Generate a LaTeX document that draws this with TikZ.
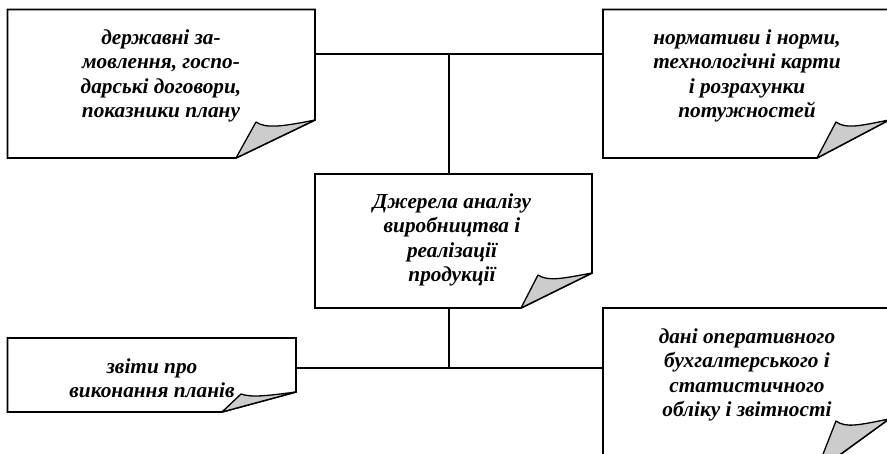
\documentclass[tikz,border=0pt]{standalone}
\usepackage{fontspec}
\setmainfont{Liberation Serif}
\tikzset{x=1pt,y=-1pt,
 conn/.style={line width=1.5pt,draw=black},
 pg/.style={line width=1.7pt,draw=black,fill=white,line join=miter},
 flap/.style={line width=1.3pt,draw=black,fill=black!20,line join=round},
 boxn/.style={inner sep=0pt,outer sep=0pt,rectangle},
 lbl/.style={align=center,font=\fontsize{21.3}{24.4}\selectfont\bfseries\itshape,inner sep=0pt}}
\newcommand{\notepage}[8]{%
 % name left top right bottom foldx tipx tipy
 \draw[pg] (#2,#3) -- (#4,#3) -- (#4,#8-2) -- (#6,#5) -- (#2,#5) -- cycle;
 \draw[flap] (#6,#5) -- (#7,#8) .. controls (#7+10,{#8+min(36,#5-#8)*0.2}) and (#4-30,{#8+min(36,#5-#8)*0.11}) .. (#4,#8-2) -- cycle;
 \node[boxn,minimum width={#4-#2},minimum height={#5-#3}] (#1) at ({(#2+#4)/2},{(#3+#5)/2}) {};
}
\begin{document}
\begin{tikzpicture}
\useasboundingbox (0,0) rectangle (887,454);
\notepage{nw}{7.5}{9.5}{315}{158}{236}{256}{122}
\notepage{ne}{603}{9.5}{889}{158}{817}{836}{122}
\notepage{c}{315}{174}{592}{308}{521}{538}{275}
\notepage{sw}{7.5}{338}{296}{412}{222}{241}{394}
\notepage{se}{603}{308}{889}{472}{816}{836}{421}
\coordinate (ja) at (449,54);
\coordinate (jb) at (449,368);
\draw[conn] (nw.east |- ja) -- (ne.west |- ja);
\draw[conn] (ja) -- (ja |- c.north);
\draw[conn] (jb |- c.south) -- (jb);
\draw[conn] (sw.east |- jb) -- (se.west |- jb);
\node[lbl] (tnw) at (161,76) {державні за-\\мовлення, госпо-\\дарські договори,\\показники плану};
\node[lbl] (tne) at (747,76) {нормативи і норми,\\технологічні карти\\і розрахунки\\потужностей};
\node[lbl] (tc) at (452,240) {Джерела аналізу\\виробництва і\\реалізації\\продукції};
\node[lbl] (tsw) at (152,378) {звіти про\\виконання планів};
\node[lbl] (tse) at (747,375) {дані оперативного\\бухгалтерського і\\статистичного\\обліку і звітності};
\end{tikzpicture}
\end{document}
